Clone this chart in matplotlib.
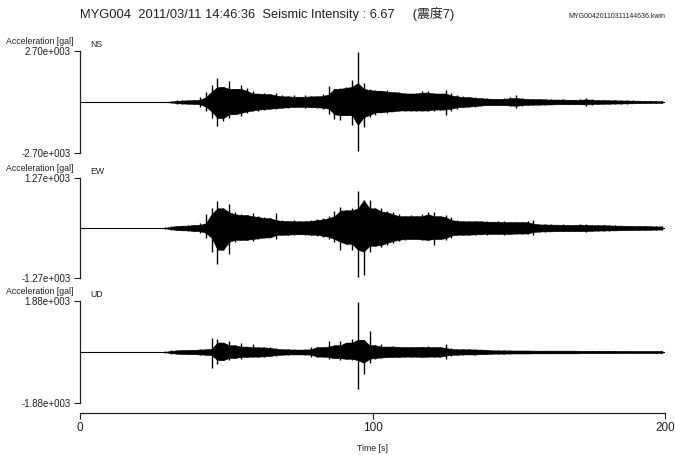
"""
Three-component acceleration record (NS / EW / UD) of station MYG004,
2011/03/11 14:46:36. Each trace is kept as a positive and a negative
peak envelope read every 2 s; the quiet core is filled and the peaks
are drawn as strokes.
"""
import numpy as np
import matplotlib
matplotlib.use('Agg')
import matplotlib.pyplot as plt

plt.rcParams['font.family'] = ['Liberation Sans', 'Noto Sans CJK JP']

# ---------------------------------------------------------------
# Data (gal), one value per 2 s bin starting at t = 0, 2, ..., 198
# ---------------------------------------------------------------
bin_start = np.arange(0, 200, 2)

ns_pos = [8, 8, 8, 8, 8, 8, 8, 8, 8, 8,
          8, 8, 8, 10, 20, 60, 80, 90, 100, 120,
          250, 550, 900, 1250, 800, 1100, 700, 900, 740, 600,
          450, 500, 420, 480, 350, 300, 380, 280, 350, 300,
          320, 400, 830, 700, 750, 800, 1160, 2660, 1000, 700,
          630, 600, 650, 550, 530, 500, 450, 500, 560, 600,
          500, 450, 620, 500, 350, 300, 260, 280, 220, 200,
          180, 170, 200, 250, 350, 220, 180, 160, 150, 150,
          140, 130, 140, 130, 120, 140, 210, 180, 120, 100,
          100, 90, 90, 80, 80, 70, 70, 60, 60, 50]
ns_neg = [8, 8, 8, 8, 8, 8, 8, 8, 8, 8,
          8, 8, 8, 10, 20, 60, 80, 90, 100, 120,
          250, 500, 850, 1290, 1000, 850, 650, 760, 580, 500,
          450, 400, 380, 350, 330, 300, 280, 260, 300, 280,
          300, 350, 650, 900, 950, 700, 1220, 2590, 1300, 800,
          690, 550, 600, 500, 500, 450, 500, 450, 480, 500,
          450, 400, 670, 450, 350, 280, 260, 240, 220, 180,
          170, 170, 180, 220, 330, 200, 170, 150, 140, 150,
          130, 130, 120, 120, 120, 130, 200, 170, 110, 100,
          90, 90, 80, 80, 70, 70, 60, 60, 50, 50]

ew_pos = [5, 5, 5, 5, 5, 5, 5, 5, 5, 5,
          5, 5, 5, 5, 30, 50, 60, 60, 85, 80,
          120, 355, 500, 690, 500, 610, 400, 350, 330, 380,
          300, 280, 250, 370, 200, 180, 200, 170, 180, 200,
          220, 250, 300, 440, 540, 450, 500, 950, 700, 710,
          500, 500, 420, 400, 350, 300, 320, 300, 350, 415,
          400, 300, 330, 280, 200, 180, 170, 190, 170, 180,
          160, 170, 180, 150, 160, 150, 180, 200, 110, 90,
          90, 85, 90, 80, 85, 90, 100, 80, 70, 70,
          70, 65, 60, 60, 55, 55, 50, 50, 45, 40]
ew_neg = [5, 5, 5, 5, 5, 5, 5, 5, 5, 5,
          5, 5, 5, 5, 30, 50, 60, 60, 85, 80,
          120, 250, 600, 915, 550, 660, 350, 300, 300, 320,
          280, 260, 240, 280, 180, 170, 180, 160, 170, 170,
          200, 220, 280, 350, 560, 400, 550, 1240, 1190, 600,
          450, 480, 430, 380, 330, 300, 280, 290, 300, 305,
          430, 280, 300, 260, 190, 170, 170, 180, 160, 170,
          150, 160, 170, 150, 150, 140, 150, 170, 100, 90,
          85, 85, 80, 80, 80, 85, 90, 80, 70, 65,
          70, 60, 60, 55, 55, 50, 50, 45, 45, 40]

ud_pos = [5, 5, 5, 5, 5, 5, 5, 5, 5, 5,
          5, 5, 5, 5, 40, 60, 70, 80, 80, 90,
          100, 120, 500, 480, 350, 410, 250, 350, 200, 280,
          180, 170, 180, 150, 120, 100, 100, 90, 100, 190,
          180, 200, 410, 250, 400, 350, 470, 1860, 450, 790,
          250, 300, 200, 220, 200, 190, 180, 190, 200, 220,
          180, 200, 280, 150, 110, 100, 100, 100, 90, 90,
          80, 60, 60, 60, 55, 55, 55, 55, 50, 50,
          50, 50, 50, 50, 50, 50, 45, 45, 45, 45,
          45, 45, 45, 40, 40, 40, 40, 40, 40, 40]
ud_neg = [5, 5, 5, 5, 5, 5, 5, 5, 5, 5,
          5, 5, 5, 5, 40, 60, 70, 80, 80, 90,
          100, 120, 590, 450, 300, 300, 220, 250, 180, 200,
          170, 170, 160, 150, 110, 100, 90, 90, 100, 200,
          170, 180, 250, 230, 300, 250, 300, 1380, 800, 400,
          250, 220, 200, 190, 180, 190, 170, 180, 180, 200,
          170, 180, 260, 140, 100, 100, 90, 100, 90, 80,
          80, 60, 60, 60, 55, 55, 55, 55, 50, 50,
          50, 50, 50, 50, 50, 50, 45, 45, 45, 45,
          45, 45, 45, 40, 40, 40, 40, 40, 40, 40]

components = ["NS", "EW", "UD"]
full_scale = [2700, 1270, 1880]  # gal
positives = [ns_pos, ew_pos, ud_pos]
negatives = [ns_neg, ew_neg, ud_neg]
time_ticks = [0, 100, 200]

title = "MYG004  2011/03/11 14:46:36  Seismic Intensity : 6.67     (震度7)"
file_name = "MYG00420110311144636.kwin"

# ---------------------------------------------------------------
# Layout (pixel rows of each panel in a 675 x 455 figure)
# ---------------------------------------------------------------
W, H = 675.0, 455.0
x0, x1 = 80, 665
panel_rows = [(51, 153), (178, 278), (301, 403)]
axis_color = '#222222'


def sci_label(v):
    # 2700 -> "2.70e+003"
    e = int(np.floor(np.log10(abs(v))))
    m = v / 10 ** e
    return f"{m:.2f}e+{e:03d}"


def core_envelope(peaks, half=1):
    # lowest peak in a window of bins: the band that stays filled
    p = np.asarray(peaks, dtype=float)
    padded = np.concatenate([[p[0]] * half, p, [p[-1]] * half])
    windows = [padded[k:k + len(p)] for k in range(2 * half + 1)]
    return np.min(windows, axis=0)


fig = plt.figure(figsize=(W / 100, H / 100), dpi=100)

axes = []
for i, comp in enumerate(components):
    top, bot = panel_rows[i]
    ax = fig.add_axes([x0 / W, 1 - bot / H, (x1 - x0) / W, (bot - top) / H])
    axes.append(ax)

    pos = np.asarray(positives[i], dtype=float)
    neg = np.asarray(negatives[i], dtype=float)
    t_mid = bin_start + 1.0

    ax.axhline(0, color='black', lw=0.8)
    ax.fill_between(t_mid, -core_envelope(neg), core_envelope(pos),
                    color='black', lw=0.4)
    ax.vlines(t_mid, -neg, pos, color='black', lw=1.0)

    A = full_scale[i]
    ax.set_xlim(0, 200)
    ax.set_ylim(-A, A)
    for s in ('top', 'right', 'bottom'):
        ax.spines[s].set_visible(False)
    ax.spines['left'].set_color(axis_color)
    ax.spines['left'].set_linewidth(0.9)
    ax.set_yticks([A, -A])
    ax.set_yticklabels([sci_label(A), '-' + sci_label(A)])
    ax.tick_params(axis='y', direction='out', length=4.3, width=0.8,
                   pad=2.5, labelsize=7, colors=axis_color)
    ax.tick_params(axis='x', bottom=False, labelbottom=False)

    ax.annotate("Acceleration [gal]", xy=(0, 1), xycoords='axes fraction',
                xytext=(-5, 6.5), textcoords='offset points',
                ha='right', va='center', fontsize=6.3, color=axis_color)
    ax.annotate(comp, xy=(0, 1), xycoords='axes fraction',
                xytext=(7.5, 5), textcoords='offset points',
                ha='left', va='center', fontsize=6.3, color=axis_color)

# time axis under the last panel
ax = axes[-1]
ax.spines['bottom'].set_visible(True)
ax.spines['bottom'].set_position(('outward', 7.2))
ax.spines['bottom'].set_color(axis_color)
ax.spines['bottom'].set_linewidth(0.9)
ax.set_xticks(time_ticks)
ax.set_xticklabels([str(v) for v in time_ticks])
ax.tick_params(axis='x', bottom=True, labelbottom=True, direction='out',
               length=4.3, width=0.8, pad=2.5, labelsize=8.5,
               colors=axis_color)
ax.set_xlabel("Time [s]", fontsize=6.3, color=axis_color, labelpad=7)

fig.text(x0 / W, 1 - 14 / H, title, ha='left', va='center',
         fontsize=9.3, color=axis_color)
fig.text(x1 / W, 1 - 16 / H, file_name, ha='right', va='center',
         fontsize=5, color=axis_color)

fig.savefig("out.png", dpi=100, facecolor='white')
